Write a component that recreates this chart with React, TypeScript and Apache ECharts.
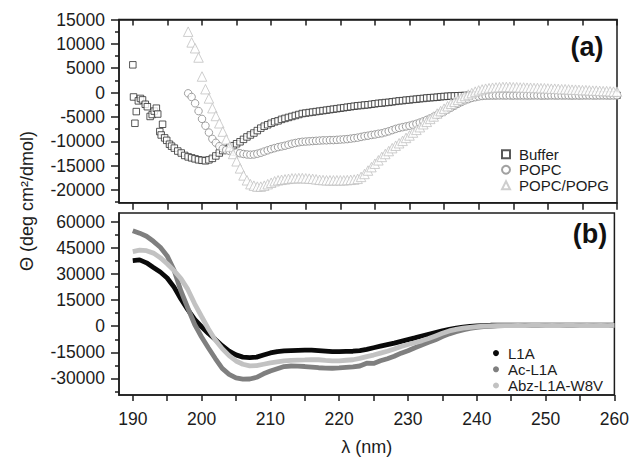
import React, { useEffect, useRef } from "react";
import * as echarts from "echarts";

// ---------- data ----------
// Panel (a): hollow-marker CD spectra
const bufferHead: [number, number][] = [
  [190.0, 5700], [190.1, -900], [190.3, -6300], [190.5, -3900], [190.8, -1700],
  [191.1, -1200], [191.4, -1500], [191.8, -2400], [192.1, -2900], [192.5, -4900],
  [192.8, -4500], [193.1, -3800], [193.4, -3200], [193.6, -4400], [193.9, -8000],
  [194.1, -8700], [194.3, -6500], [194.6, -9300], [194.9, -9800], [195.3, -10600],
  [195.6, -11000],
];
const bufferStart = 196;
const bufferValues = [
  -11400, -12000, -12400, -12900, -13200, -13400, -13600, -13800, -13900, -14000,
  -13800, -13500, -13000, -12400, -11900, -11500, -11200, -10900, -10500, -10100,
  -9600, -9100, -8700, -8300, -7800, -7300, -6900, -6600, -6300, -6000,
  -5800, -5500, -5300, -5100, -4900, -4700, -4500, -4300, -4200, -4100,
  -4000, -3900, -3800, -3700, -3600, -3500, -3400, -3300, -3200, -3100,
  -3000, -2900, -2800, -2700, -2650, -2550, -2500, -2400, -2300, -2200,
  -2150, -2050, -2000, -1900, -1800, -1700, -1650, -1550, -1500, -1400,
  -1350, -1250, -1200, -1100, -1050, -1000, -950, -850, -800, -750,
  -700, -680, -650, -620, -600, -580, -560, -550, -540, -560,
  -540, -550, -570, -550, -530, -560, -550, -540, -560, -550,
  -570, -550, -540, -560, -550, -530, -550, -570, -550, -540,
  -560, -550, -540, -560, -550, -570, -550, -540, -560, -550,
  -530, -550, -560, -540, -550, -560, -550, -540, -550,
];
const popcStart = 198;
const popcValues = [
  -150, -900, -2200, -3800, -5400, -6800, -8200, -9500, -10300, -11000,
  -11500, -11800, -12000, -12150, -12300, -12450, -12600, -12700, -12750, -12700,
  -12550, -12350, -12100, -11850, -11600, -11400, -11200, -11050, -10900, -10700,
  -10500, -10350, -10200, -10100, -10050, -10000, -9950, -9900, -9850, -9800,
  -9800, -9750, -9750, -9700, -9650, -9600, -9550, -9450, -9350, -9250,
  -9100, -8950, -8850, -8700, -8600, -8450, -8350, -8150, -7950, -7700,
  -7450, -7250, -7100, -6950, -6800, -6600, -6400, -6150, -5900, -5600,
  -5300, -4950, -4600, -4250, -3900, -3500, -3100, -2700, -2300, -1950,
  -1600, -1350, -1100, -950, -800, -700, -650, -620, -600, -610,
  -600, -590, -610, -600, -620, -600, -590, -600, -610, -600,
  -590, -600, -620, -600, -610, -590, -600, -610, -600, -590,
  -600, -610, -600, -620, -600, -590, -600, -610, -600, -600,
  -590, -600, -610, -600, -600,
];
const popgStart = 198;
const popgValues = [
  12500, 10300, 9100, 7200, 3300, 700, -1200, -3200, -4800, -6300,
  -8000, -9600, -11100, -12600, -14100, -15550, -17000, -18000, -18800, -19100,
  -19300, -19300, -19100, -18800, -18500, -18200, -18000, -17900, -17800, -17700,
  -17600, -17600, -17550, -17550, -17600, -17650, -17700, -17800, -17900, -17950,
  -18000, -18000, -18000, -18000, -18000, -18000, -17950, -17900, -17850, -17700,
  -17300, -16700, -16000, -15300, -14600, -13900, -13200, -12600, -12000, -11400,
  -10900, -10400, -9900, -9300, -8800, -8200, -7650, -7100, -6500, -6000,
  -5400, -4900, -4300, -3800, -3300, -2800, -2300, -1900, -1500, -1100,
  -700, -400, -100, 200, 450, 650, 800, 900, 1000, 1050,
  1100, 1150, 1150, 1150, 1100, 1100, 1050, 1050, 1000, 1000,
  950, 950, 900, 900, 850, 800, 800, 750, 700, 700,
  650, 600, 600, 550, 500, 500, 450, 400, 400, 350,
  300, 300, 250, 200, 200,
];

// Panel (b): CD spectra drawn as dense traces, one value per nm from 190 nm
const lambdaStart = 190;
const l1a = [
  37800, 38200, 36500, 33800, 31200, 27800, 22500, 15700, 9500, 3900, -300,
  -4200, -7600, -11200, -14300, -16500, -17800, -18100, -17800, -16600, -15400,
  -14600, -14200, -14000, -13900, -13800, -13800, -14000, -14300, -14600, -14600,
  -14500, -14400, -14000, -13300, -12400, -11500, -10600, -9700, -8700, -7700,
  -6700, -5600, -4600, -3600, -2600, -1800, -1100, -500, -100, 200,
  400, 550, 600, 650, 650, 600, 650, 600, 650, 600,
  600, 650, 600, 600, 650, 600, 600, 650, 600, 600,
];
const acL1a = [
  55000, 53600, 51800, 48900, 45500, 40500, 32300, 20300, 10500, 1000, -6200,
  -12500, -18600, -24300, -27700, -29800, -30500, -30400, -29400, -27400, -25800,
  -24500, -23200, -22900, -23000, -23200, -23500, -23900, -24100, -24200, -24000,
  -23700, -23400, -22900, -21300, -21400, -19900, -18700, -17300, -15500, -14100,
  -12400, -10800, -9300, -7800, -6000, -4400, -3200, -2100, -1200, -600,
  -200, 0, 200, 300, 350, 400, 400, 450, 400, 450,
  400, 450, 450, 400, 450, 400, 450, 450, 400, 450,
];
const abzL1aW8v = [
  43000, 43800, 43500, 42100, 39500, 36000, 32000, 27400, 21200, 12900, 5600,
  -1600, -7900, -12900, -16900, -20000, -21900, -22800, -22700, -21900, -21100,
  -20500, -20000, -19700, -19500, -19400, -19300, -19300, -19700, -20000, -19900,
  -19600, -19300, -18500, -17500, -16600, -15500, -14400, -13100, -11700, -10500,
  -9500, -8400, -7100, -5600, -4100, -2700, -1800, -1100, -600, -200,
  100, 250, 350, 400, 400, 450, 400, 450, 450, 400,
  450, 400, 450, 450, 400, 450, 400, 450, 400, 450,
];

// ticks / labels
const xTickValues = [190, 195, 200, 205, 210, 215, 220, 225, 230, 235, 240, 245, 250, 255, 260];
const xLabelValues = [190, 200, 210, 220, 230, 240, 250, 260];
const topYLabels = [-20000, -15000, -10000, -5000, 0, 5000, 10000, 15000];
const topYMinor = [-22500, -17500, -12500, -7500, -2500, 2500, 7500, 12500];
const botYLabels = [-30000, -15000, 0, 15000, 30000, 45000, 60000];
const botYMinor = [-37500, -22500, -7500, 7500, 22500, 37500, 52500];

const withStep = (start: number, step: number, vals: number[]) =>
  vals.map((v, i) => [start + i * step, v]);

const FONT = "'Liberation Sans', Arial, Helvetica, sans-serif";
const AXIS = "#1c1c1c";
const plain = (v: number) => String(v);

export default function App() {
  const ref = useRef<HTMLDivElement>(null);
  useEffect(() => {
    if (!ref.current) return;
    const chart = echarts.init(ref.current, undefined, { renderer: "svg" });
    const lineStyle = { color: AXIS, width: 1.5 };
    const xBase = {
      type: "value",
      min: 188,
      max: 260,
      splitLine: { show: false },
      axisLine: { show: true, onZero: false, lineStyle },
    };
    const yLabel = { fontSize: 17.5, color: AXIS, margin: 14, fontFamily: FONT, formatter: plain };
    const option: any = {
      animation: false,
      textStyle: { fontFamily: FONT },
      grid: [
        { left: 119, top: 19.5, width: 498, height: 183.2, show: true, borderColor: AXIS, borderWidth: 1.5, backgroundColor: "transparent" },
        { left: 119, top: 213, width: 498, height: 182.7, show: true, borderColor: AXIS, borderWidth: 1.5, backgroundColor: "transparent" },
      ],
      xAxis: [
        { ...xBase, gridIndex: 0, position: "bottom", axisTick: { show: true, length: 7, customValues: xTickValues, lineStyle }, axisLabel: { show: false } },
        { ...xBase, gridIndex: 0, position: "top", axisTick: { show: true, inside: true, length: 6, customValues: xTickValues, lineStyle }, axisLabel: { show: false } },
        {
          ...xBase, gridIndex: 1, position: "bottom",
          axisTick: { show: true, length: 6, customValues: xTickValues, lineStyle },
          axisLabel: { customValues: xLabelValues, fontSize: 17.5, color: AXIS, margin: 15, fontFamily: FONT, formatter: plain },
          name: "λ (nm)", nameLocation: "middle", nameGap: 43,
          nameTextStyle: { fontSize: 18, color: AXIS, fontFamily: FONT },
        },
      ],
      yAxis: [
        { type: "value", gridIndex: 0, position: "left", min: -22600, max: 15000, splitLine: { show: false },
          axisLine: { show: true, onZero: false, lineStyle },
          axisTick: { show: true, length: 8, customValues: topYLabels, lineStyle },
          axisLabel: { ...yLabel, customValues: topYLabels } },
        { type: "value", gridIndex: 0, position: "left", min: -22600, max: 15000, splitLine: { show: false },
          axisLine: { show: false },
          axisTick: { show: true, length: 4, customValues: topYMinor, lineStyle },
          axisLabel: { show: false } },
        { type: "value", gridIndex: 1, position: "left", min: -39600, max: 65200, splitLine: { show: false },
          axisLine: { show: true, onZero: false, lineStyle },
          axisTick: { show: true, length: 8, customValues: botYLabels, lineStyle },
          axisLabel: { ...yLabel, customValues: botYLabels } },
        { type: "value", gridIndex: 1, position: "left", min: -39600, max: 65200, splitLine: { show: false },
          axisLine: { show: false },
          axisTick: { show: true, length: 4, customValues: botYMinor, lineStyle },
          axisLabel: { show: false } },
      ],
      legend: [
        {
          orient: "vertical", left: 496, top: 141.5, itemWidth: 8, itemHeight: 8, itemGap: 0,
          textStyle: { fontSize: 15, lineHeight: 15.5, color: AXIS, fontFamily: FONT, padding: [0, 0, 0, 4] },
          data: ["Buffer", "POPC", "POPC/POPG"],
        },
        {
          orient: "vertical", left: 488, top: 340, itemWidth: 6, itemHeight: 6, itemGap: 0,
          textStyle: { fontSize: 15, lineHeight: 16.2, color: AXIS, fontFamily: FONT, padding: [0, 0, 0, 4] },
          data: [
            { name: "L1A", icon: "circle" },
            { name: "Ac-L1A", icon: "circle" },
            { name: "Abz-L1A-W8V", icon: "circle" },
          ],
        },
      ],
      series: [
        { name: "Buffer", type: "scatter", xAxisIndex: 0, yAxisIndex: 0, symbol: "rect", symbolSize: 6.5,
          itemStyle: { color: "#ffffff", borderColor: "#2e2e2e", borderWidth: 1 },
          data: [...bufferHead, ...withStep(bufferStart, 0.5, bufferValues)] },
        { name: "POPC", type: "scatter", xAxisIndex: 0, yAxisIndex: 0, symbol: "circle", symbolSize: 7.5,
          itemStyle: { color: "#ffffff", borderColor: "#8a8a8a", borderWidth: 1 },
          data: withStep(popcStart, 0.5, popcValues) },
        { name: "POPC/POPG", type: "scatter", xAxisIndex: 0, yAxisIndex: 0, symbol: "triangle", symbolSize: 9.5,
          itemStyle: { color: "#ffffff", borderColor: "#c2c2c2", borderWidth: 1 },
          data: withStep(popgStart, 0.5, popgValues) },
        { name: "L1A", type: "line", xAxisIndex: 2, yAxisIndex: 2, showSymbol: false, symbol: "circle",
          itemStyle: { color: "#0a0a0a" }, lineStyle: { color: "#0a0a0a", width: 4.8 },
          data: withStep(lambdaStart, 1, l1a) },
        { name: "Ac-L1A", type: "line", xAxisIndex: 2, yAxisIndex: 2, showSymbol: false, symbol: "circle",
          itemStyle: { color: "#7f7f7f" }, lineStyle: { color: "#7f7f7f", width: 4.8 },
          data: withStep(lambdaStart, 1, acL1a) },
        { name: "Abz-L1A-W8V", type: "line", xAxisIndex: 2, yAxisIndex: 2, showSymbol: false, symbol: "circle",
          itemStyle: { color: "#c2c2c2" }, lineStyle: { color: "#c2c2c2", width: 4.8 },
          data: withStep(lambdaStart, 1, abzL1aW8v) },
      ],
      graphic: [
        { type: "text", x: 587, y: 47, style: { text: "(a)", fontSize: 27, fontWeight: "bold", fontFamily: FONT, fill: "#111", align: "center", verticalAlign: "middle" } },
        { type: "text", x: 590, y: 234, style: { text: "(b)", fontSize: 27, fontWeight: "bold", fontFamily: FONT, fill: "#111", align: "center", verticalAlign: "middle" } },
        { type: "text", x: 27, y: 201, rotation: Math.PI / 2, style: { text: "Θ (deg cm²/dmol)", fontSize: 18, fontFamily: FONT, fill: AXIS, align: "center", verticalAlign: "middle" } },
      ],
    };
    chart.setOption(option);
    return () => chart.dispose();
  }, []);
  return (
    <div
      ref={ref}
      style={{ position: "absolute", left: 0, top: 0, width: 632, height: 457, background: "#fff" }}
    />
  );
}
